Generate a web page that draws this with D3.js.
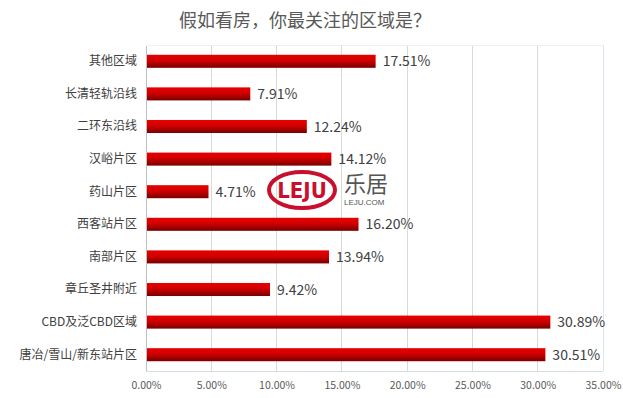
<!DOCTYPE html>
<html>
<head>
<meta charset="utf-8">
<script src="https://cdn.jsdelivr.net/npm/d3@7"></script>
<style>
  body { margin: 0; background: #fff; }
  text { font-family: "Noto Sans CJK SC", "Noto Sans", sans-serif; }
</style>
</head>
<body>
<div class="content"></div>
<script>
const SVG_W = 623;
const SVG_H = 398;

// data
const categories = ["其他区域","长清轻轨沿线","二环东沿线","汉峪片区","药山片区","西客站片区","南部片区","章丘圣井附近","CBD及泛CBD区域","唐冶/雪山/新东站片区"];
const values = [17.51, 7.91, 12.24, 14.12, 4.71, 16.20, 13.94, 9.42, 30.89, 30.51];
const xTicks = [0, 5, 10, 15, 20, 25, 30, 35];

const svg = d3.select(".content").append("svg").attr("width", SVG_W).attr("height", SVG_H);

// bar gradient
let grad = svg.append("defs").append("linearGradient").attr("id", "barGrad")
    .attr("x1", 0).attr("y1", 0).attr("x2", 0).attr("y2", 1);
grad.append("stop").attr("offset", "0%").attr("stop-color", "#e80000");
grad.append("stop").attr("offset", "45%").attr("stop-color", "#d00000");
grad.append("stop").attr("offset", "100%").attr("stop-color", "#780000");

// title
svg.append("text").attr("x", 305).attr("y", 27).attr("text-anchor", "middle")
    .attr("font-size", 18).attr("fill", "#595959").text("假如看房，你最关注的区域是？");

const PL = 146, PR = 603, PT = 45, PB = 371;
let xscale = d3.scaleLinear().domain([0, 35]).range([PL, PR]);
let yscale = d3.scaleBand().domain(categories).range([PT, PB]).paddingInner(0.6).paddingOuter(0.3);

let g = svg.append("g");

// gridlines
g.selectAll(".grid").data(xTicks).join("line").classed("grid", true)
    .attr("x1", d => xscale(d)).attr("x2", d => xscale(d))
    .attr("y1", PT).attr("y2", PB)
    .attr("stroke", d => d == 0 ? "#bfbfbf" : "#d9d9d9").attr("stroke-width", 1)
    .attr("shape-rendering", "crispEdges");
g.append("line").attr("x1", PL).attr("x2", PR).attr("y1", PT).attr("y2", PT)
    .attr("stroke", "#f0f0f0").attr("shape-rendering", "crispEdges");
g.append("line").attr("x1", PL).attr("x2", PR).attr("y1", PB).attr("y2", PB)
    .attr("stroke", "#d5dde8").attr("shape-rendering", "crispEdges");
g.append("line").attr("x1", PR).attr("x2", PR).attr("y1", PT).attr("y2", PB)
    .attr("stroke", "#dce6f2").attr("shape-rendering", "crispEdges");

// x axis labels
let xaxis = d3.axisBottom(xscale).tickValues(xTicks).tickSize(0).tickPadding(11)
    .tickFormat(d => d.toFixed(2) + "%");
let xg = svg.append("g").attr("transform", "translate(0," + PB + ")").call(xaxis);
xg.select(".domain").remove();
xg.selectAll("text").attr("font-size", 10.5).attr("fill", "#595959")
    .style("font-family", '"Noto Sans CJK SC", sans-serif');

// y axis labels
let yaxis = d3.axisLeft(yscale).tickSize(0).tickPadding(9);
let yg = svg.append("g").attr("transform", "translate(" + PL + ",0)").call(yaxis);
yg.select(".domain").remove();
yg.selectAll("text").attr("font-size", 12).attr("fill", "#404040")
    .style("font-family", '"Noto Sans CJK SC", sans-serif');

// bars
let rows = categories.map((c, i) => ({cat: c, val: values[i]}));
g.selectAll(".bar").data(rows).join("rect").classed("bar", true)
    .attr("x", xscale(0) + 1).attr("y", d => yscale(d.cat))
    .attr("width", d => xscale(d.val) - xscale(0)).attr("height", yscale.bandwidth())
    .attr("fill", "url(#barGrad)");

// value labels
g.selectAll(".val").data(rows).join("text").classed("val", true)
    .attr("x", d => xscale(d.val) + 8).attr("y", d => yscale(d.cat) + yscale.bandwidth() / 2)
    .attr("dy", "0.36em").attr("font-size", 14).attr("fill", "#404040")
    .text(d => d.val.toFixed(2) + "%");

// watermark logo
let logo = svg.append("g");
logo.append("ellipse").attr("cx", 302).attr("cy", 190).attr("rx", 33).attr("ry", 18)
    .attr("fill", "none").attr("stroke", "#c8102e").attr("stroke-width", 4);
logo.append("text").attr("x", 302).attr("y", 198).attr("text-anchor", "middle")
    .attr("font-size", 22).attr("font-weight", "bold").attr("fill", "#c8102e")
    .style("font-family", '"Liberation Sans Narrow", "DejaVu Sans Condensed", sans-serif')
    .text("LEJU");
logo.append("text").attr("x", 344).attr("y", 192).attr("font-size", 22).attr("fill", "#555")
    .text("乐居");
logo.append("text").attr("x", 344).attr("y", 205).attr("font-size", 8).attr("fill", "#555")
    .style("font-family", '"Liberation Sans", sans-serif')
    .text("LEJU.COM");
</script>
</body>
</html>
